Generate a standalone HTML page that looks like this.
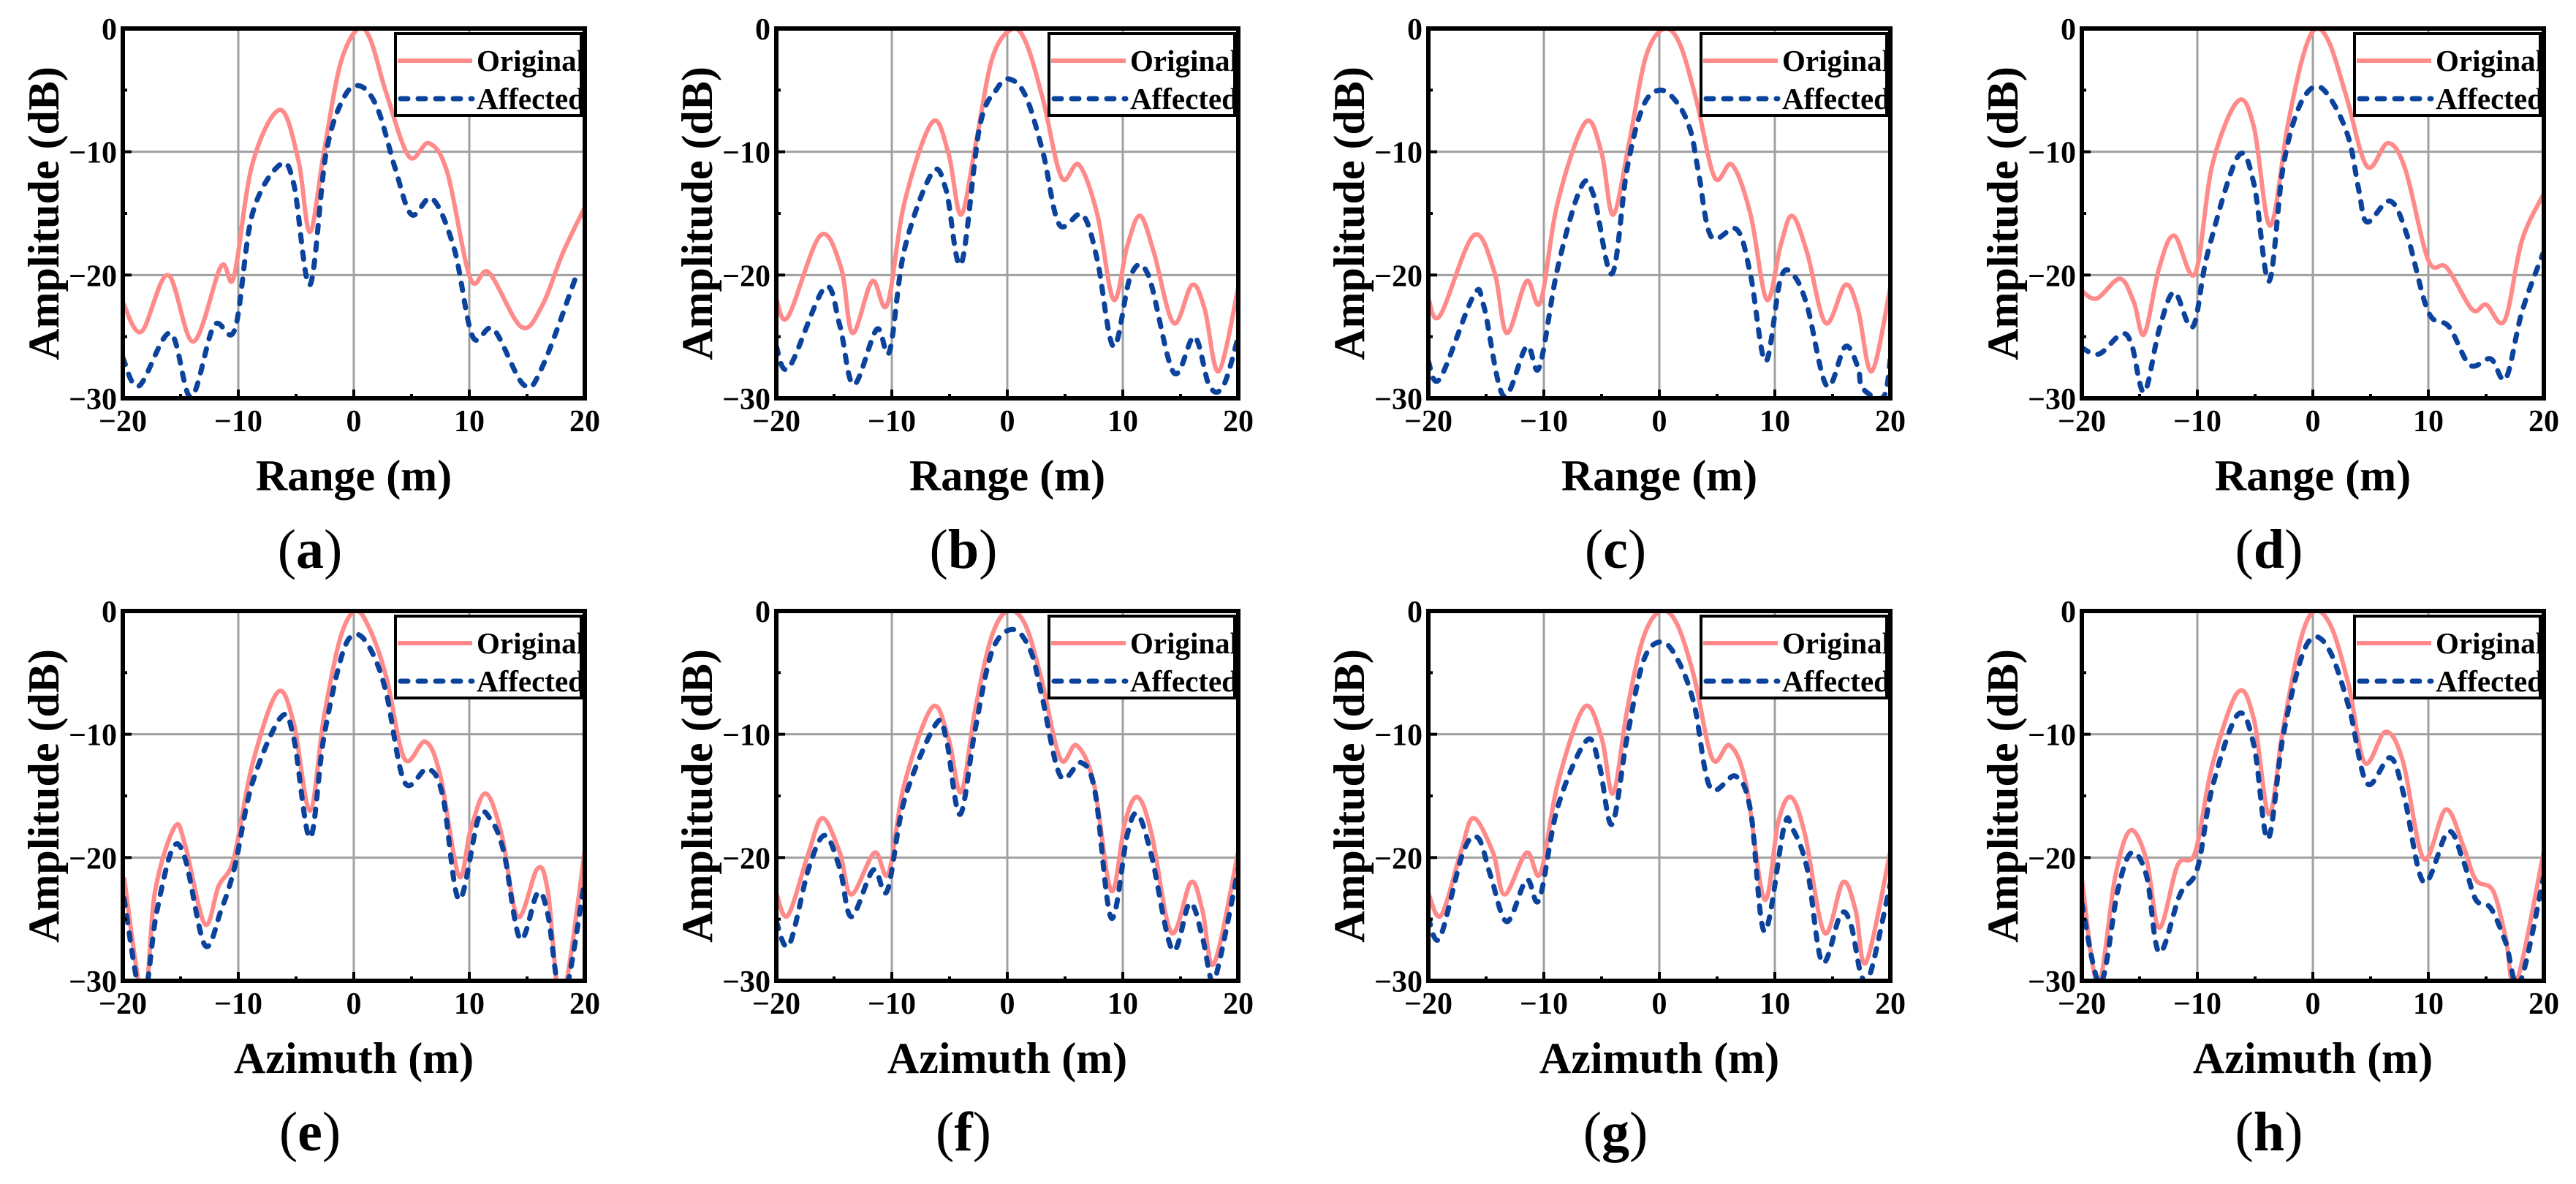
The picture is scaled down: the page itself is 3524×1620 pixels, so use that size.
<!DOCTYPE html>
<html><head><meta charset="utf-8"><style>
html,body{margin:0;padding:0;background:#fff;}
svg{display:block;}
text{font-family:"Liberation Serif",serif;fill:#000;}
</style></head><body>
<svg id="fig" width="3524" height="1620" viewBox="0 0 3524 1620"></svg>
<script>
// ---- data (x in m, y in dB) ----
const xTicks = [-20,-10,0,10,20];
const yTicks = [0,-10,-20,-30];
const panelLetters = ['a','b','c','d','e','f','g','h'];
const xTitles = ['Range (m)','Range (m)','Range (m)','Range (m)','Azimuth (m)','Azimuth (m)','Azimuth (m)','Azimuth (m)'];

const aOrigX=[-20,-18.4,-16.1,-13.9,-11.5,-10.4,-8.8,-6.4,-4.8,-3.8,-2.6,-1.2,0.3,1.4,2.8,4.8,6.5,8.1,10.1,11.7,14.5,16.3,18.1,20];
const aOrigY=[-22.2,-24.6,-20.0,-25.4,-19.3,-20.2,-11.05,-6.6,-10.7,-16.5,-10.1,-3.0,-0.06,-0.8,-5.2,-10.4,-9.3,-11.7,-20.3,-19.8,-24.2,-22.5,-18.2,-14.5];
const aAffX=[-20,-18.6,-15.9,-14.1,-12.1,-10.3,-8.8,-6.4,-5.2,-3.8,-2.4,-0.8,0.65,2.1,3.6,5.0,6.8,8.7,10.3,12.1,14.7,16.3,19.4];
const aAffY=[-26.7,-29.0,-24.7,-29.9,-24.1,-24.4,-15.1,-11.05,-12.6,-20.8,-10.1,-5.5,-4.7,-6.6,-11.4,-15.1,-13.8,-17.9,-25.0,-24.4,-28.9,-27.5,-19.7];

const bOrigX=[-20,-19.0,-16.2,-14.4,-13.4,-11.7,-10.4,-8.9,-6.5,-5.1,-4.0,-2.7,-1.3,0.36,1.6,3.1,4.7,6.2,7.8,9.2,10.4,11.5,12.7,14.4,16.0,17.1,18.3,20];
const bOrigY=[-21.9,-23.4,-16.8,-19.4,-24.7,-20.5,-22.4,-14.1,-7.6,-10.1,-15.1,-9.2,-2.4,-0.06,-1.1,-5.8,-12.1,-11.05,-15.1,-22.0,-17.6,-15.2,-18.2,-23.9,-20.8,-22.8,-27.8,-21.0];
const bAffX=[-20,-18.9,-15.8,-14.5,-13.3,-11.3,-10.2,-8.9,-6.5,-5.3,-4.0,-2.4,-0.9,0.2,1.6,3.1,4.5,6.5,7.8,9.2,10.7,12.2,14.4,16.2,17.5,18.7,20];
const bAffY=[-25.8,-27.5,-21.0,-24.1,-28.9,-24.4,-26.2,-17.9,-11.7,-13.1,-19.1,-8.0,-4.9,-4.1,-5.5,-10.1,-15.9,-15.1,-18.8,-25.8,-20.0,-20.0,-27.9,-25.0,-29.0,-29.0,-25.0];

const cOrigX=[-20,-19.0,-16.1,-14.3,-13.2,-11.5,-10.3,-8.8,-6.4,-5.0,-4.0,-2.6,-1.2,0.3,1.7,3.2,4.8,6.3,7.9,9.3,10.5,11.5,12.8,14.4,16.1,17.2,18.4,20];
const cOrigY=[-21.9,-23.3,-16.8,-19.7,-24.7,-20.5,-22.2,-14.1,-7.6,-10.1,-15.1,-9.2,-2.4,-0.06,-1.1,-5.8,-12.1,-11.05,-15.1,-22.0,-17.6,-15.2,-18.2,-23.9,-20.8,-22.8,-27.8,-21.0];
const cAffX=[-20,-19.0,-16.1,-15.2,-13.5,-11.5,-10.4,-8.8,-6.8,-5.7,-4.1,-2.8,-1.4,0.1,1.6,2.7,3.4,4.5,6.7,7.9,9.2,10.5,11.6,12.8,14.5,16.1,17.2,17.6,19.4,20];
const cAffY=[-27.0,-28.4,-21.7,-22.5,-29.8,-25.8,-27.5,-19.4,-12.9,-13.5,-19.9,-11.4,-6.3,-5.0,-6.1,-8.3,-11.7,-16.9,-16.3,-20.0,-27.0,-20.3,-20.0,-22.5,-29.0,-25.8,-27.5,-29.2,-29.9,-26.8];

const dOrigX=[-20,-18.7,-16.7,-15.5,-14.6,-13.3,-12.0,-10.2,-8.7,-6.5,-5.1,-3.7,-2.2,-0.9,0.2,1.4,2.9,4.7,6.5,8.0,10.0,11.6,13.8,15.0,16.6,18.1,20];
const dOrigY=[-21.3,-21.9,-20.3,-22.2,-24.8,-19.4,-16.8,-19.9,-11.05,-5.9,-8.0,-16.0,-8.0,-2.4,-0.06,-1.1,-5.5,-11.2,-9.3,-11.4,-18.8,-19.4,-22.8,-22.4,-23.7,-17.2,-13.4];
const dAffX=[-20,-18.5,-16.6,-15.7,-14.6,-13.3,-12.0,-10.4,-9.1,-6.5,-5.1,-3.8,-2.6,-1.3,0.2,1.6,3.1,4.0,4.7,6.7,8.2,10.0,11.8,13.6,15.4,16.7,18.1,19.9];
const dAffY=[-25.9,-26.4,-24.8,-25.6,-29.5,-24.4,-21.4,-24.2,-18.2,-10.4,-12.6,-20.5,-11.4,-6.6,-4.7,-5.8,-8.9,-13.2,-15.7,-14.0,-16.9,-23.0,-24.2,-27.3,-26.8,-28.4,-23.0,-18.3];

const eOrigX=[-19.9,-18.2,-17.2,-15.5,-14.6,-12.9,-11.7,-10.4,-8.8,-6.6,-5.2,-3.8,-2.6,-1.2,0.1,1.3,2.8,4.4,6.2,7.5,9.1,10.1,11.4,12.8,14.2,15.9,16.8,18.0,20];
const eOrigY=[-21.6,-31.5,-22.7,-17.5,-19.0,-25.4,-22.3,-20.1,-12.5,-6.6,-9.1,-16.2,-8.7,-2.3,0,-1.3,-5.3,-12.0,-10.6,-13.4,-21.5,-17.8,-14.8,-18.1,-24.8,-20.9,-22.7,-31.5,-19.5];
const eAffX=[-19.9,-18.3,-17.1,-15.7,-14.6,-12.9,-11.5,-10.3,-8.8,-6.3,-5.2,-3.8,-2.6,-1.0,0.2,1.5,2.8,4.4,6.4,7.7,9.1,10.8,11.9,13.0,14.4,15.9,16.8,18.1,20];
const eAffY=[-23.3,-31.5,-24.6,-19.3,-20.1,-27.1,-24.3,-20.7,-14.0,-8.6,-10.3,-18.4,-10.3,-3.5,-1.9,-3.2,-6.6,-13.9,-12.8,-15.0,-23.4,-16.8,-17.0,-19.6,-26.6,-22.9,-24.6,-31.5,-21.8];

const fOrigX=[-20,-19.0,-17.2,-16.0,-14.5,-13.5,-11.5,-10.3,-8.9,-6.5,-5.1,-4.0,-2.8,-1.4,0,1.5,2.9,4.6,6.0,7.5,9.0,10.2,11.3,12.5,14.2,15.9,16.9,17.9,20];
const fOrigY=[-22.9,-24.7,-19.6,-16.8,-19.6,-23.0,-19.6,-21.3,-14.0,-7.8,-10.3,-14.7,-8.1,-2.2,0,-1.0,-5.3,-12.0,-10.9,-14.0,-22.7,-17.1,-15.1,-18.1,-26.1,-22.0,-24.3,-28.6,-19.5];
const fAffX=[-20,-18.9,-17.2,-15.8,-14.5,-13.5,-11.6,-10.4,-8.9,-6.2,-5.3,-4.1,-2.8,-1.3,0.5,2.0,3.0,4.6,6.4,7.6,9.0,10.4,11.3,12.5,14.3,15.8,16.9,17.7,18.4,20];
const fAffY=[-25.2,-27.1,-20.9,-18.2,-20.9,-24.8,-21.0,-22.7,-15.3,-9.2,-10.3,-16.5,-9.7,-3.2,-1.5,-3.2,-6.9,-13.4,-12.3,-14.7,-24.9,-18.1,-16.5,-19.9,-27.5,-23.7,-26.5,-30.0,-28.3,-20.9];

const gOrigX=[-20,-18.9,-17.2,-16.1,-14.4,-13.4,-11.5,-10.3,-8.8,-6.5,-5.0,-4.0,-2.8,-1.4,0.1,1.5,3.0,4.6,6.1,7.5,9.1,10.3,11.4,12.6,14.3,15.9,17.0,17.9,20];
const gOrigY=[-22.9,-24.7,-19.6,-16.8,-19.6,-23.0,-19.6,-21.3,-14.0,-7.8,-10.3,-14.8,-8.1,-2.2,0,-1.0,-5.3,-12.0,-10.9,-14.0,-23.4,-17.1,-15.1,-18.1,-26.1,-22.0,-24.3,-28.5,-19.5];
const gAffX=[-20,-19.0,-17.0,-15.7,-14.6,-13.2,-11.5,-10.4,-8.8,-6.3,-5.2,-4.1,-2.8,-1.4,0.1,1.5,3.0,4.4,6.6,7.9,9.1,10.8,11.5,12.8,14.1,15.7,16.6,17.5,18.3,20];
const gAffY=[-24.9,-26.5,-19.6,-18.4,-21.5,-25.2,-21.8,-23.4,-15.9,-10.5,-12.5,-17.3,-10.3,-4.1,-2.5,-3.8,-7.5,-14.3,-13.4,-16.2,-26.0,-17.5,-17.6,-20.9,-28.5,-24.6,-25.5,-29.6,-29.3,-22.1];

const hOrigX=[-20,-18.6,-17.1,-15.8,-14.4,-13.3,-11.7,-10.2,-8.7,-6.5,-5.1,-3.8,-2.6,-1.1,0.15,1.6,3.1,4.5,6.3,7.8,9.6,11.5,13.0,14.1,15.6,16.7,17.6,20];
const hOrigY=[-21.8,-30.2,-21.5,-17.8,-20.2,-25.7,-20.6,-19.6,-12.5,-6.6,-8.8,-16.5,-9.7,-2.5,0,-1.3,-6.0,-12.3,-9.8,-12.2,-20.1,-16.1,-19.0,-21.8,-22.7,-26.5,-30.2,-19.5];
const hAffX=[-20,-18.4,-16.9,-15.7,-14.4,-13.3,-11.5,-10.0,-8.7,-6.5,-5.1,-3.9,-2.6,-1.1,0.15,1.6,3.2,4.7,6.7,7.9,9.6,11.7,13.0,14.1,15.4,16.7,17.9,20];
const hAffY=[-23.7,-30.2,-22.7,-19.6,-21.5,-27.7,-23.0,-20.9,-14.3,-8.4,-10.9,-18.5,-10.3,-4.1,-2.1,-3.5,-8.1,-14.0,-11.9,-15.0,-22.0,-17.9,-20.2,-23.4,-24.1,-26.9,-30.2,-21.5];

const origXs=[aOrigX,bOrigX,cOrigX,dOrigX,eOrigX,fOrigX,gOrigX,hOrigX];
const origYs=[aOrigY,bOrigY,cOrigY,dOrigY,eOrigY,fOrigY,gOrigY,hOrigY];
const affXs=[aAffX,bAffX,cAffX,dAffX,eAffX,fAffX,gAffX,hAffX];
const affYs=[aAffY,bAffY,cAffY,dAffY,eAffY,fAffY,gAffY,hAffY];

// ---- layout ----
const NS='http://www.w3.org/2000/svg';
const svg=document.getElementById('fig');
const colLeft=[168,1062,1954,2848];
const rowTop=[39,836];
const PW=632, PH=506;

function mk(tag,attrs,parent){const e=document.createElementNS(NS,tag);for(const k in attrs)e.setAttribute(k,attrs[k]);(parent||svg).appendChild(e);return e;}

function pathFrom(xs,ys,sx,sy){
  const p=xs.map((x,i)=>[sx(x),sy(ys[i])]);
  let d='M'+p[0][0].toFixed(1)+','+p[0][1].toFixed(1);
  for(let i=0;i<p.length-1;i++){
    const p0=p[Math.max(0,i-1)],p1=p[i],p2=p[i+1],p3=p[Math.min(p.length-1,i+2)];
    const c1=[p1[0]+(p2[0]-p0[0])/6,p1[1]+(p2[1]-p0[1])/6];
    const c2=[p2[0]-(p3[0]-p1[0])/6,p2[1]-(p3[1]-p1[1])/6];
    d+=' C'+c1[0].toFixed(1)+','+c1[1].toFixed(1)+' '+c2[0].toFixed(1)+','+c2[1].toFixed(1)+' '+p2[0].toFixed(1)+','+p2[1].toFixed(1);
  }
  return d;
}

for(let k=0;k<8;k++){
  const L=colLeft[k%4], T=rowTop[Math.floor(k/4)];
  const sx=x=>L+(x+20)/40*PW;
  const sy=y=>T+(-y)/30*PH;
  const g=mk('g',{});
  
  
  const cid='clip'+k;
  const cp=mk('clipPath',{id:cid},g);
  mk('rect',{x:L,y:T,width:PW,height:PH},cp);
  // grid
  [-10,0,10].forEach(v=>{const l=mk('line',{x1:sx(v),x2:sx(v),y1:T,y2:T+PH,stroke:'#a0a0a0','stroke-width':3},g);
    });
  [-10,-20].forEach(v=>{const l=mk('line',{x1:L,x2:L+PW,y1:sy(v),y2:sy(v),stroke:'#a0a0a0','stroke-width':3},g);
    });
  // curves
  const cg=mk('g',{'clip-path':'url(#'+cid+')'},g);
  const po=mk('path',{d:pathFrom(origXs[k],origYs[k],sx,sy),fill:'none',stroke:'#ff8a8a','stroke-width':6,'stroke-linejoin':'round'},cg);
  
  
  const pa=mk('path',{d:pathFrom(affXs[k],affYs[k],sx,sy),fill:'none',stroke:'#0b439c','stroke-width':7,'stroke-dasharray':'10 14','stroke-linecap':'round'},cg);
  
  
  // ticks
  for(let v=-20;v<=20;v+=5){const len=(v%10===0)?12:6;mk('line',{x1:sx(v),x2:sx(v),y1:T+PH,y2:T+PH-len,stroke:'#000','stroke-width':4},g);}
  for(let v=0;v>=-30;v-=5){const len=(v%10===0)?12:6;mk('line',{x1:L,x2:L+len,y1:sy(v),y2:sy(v),stroke:'#000','stroke-width':4},g);}
  // frame
  const fr=mk('rect',{x:L,y:T,width:PW,height:PH,fill:'none',stroke:'#000','stroke-width':6},g);
  
  
  // tick labels
  xTicks.forEach(v=>{const t=mk('text',{x:sx(v),y:T+PH+45,'text-anchor':'middle','font-size':42,'font-weight':'bold'},g);
    t.textContent=v<0?'\u2212'+(-v):String(v);
    });
  yTicks.forEach(v=>{const t=mk('text',{x:L-8,y:sy(v)+15,'text-anchor':'end','font-size':42,'font-weight':'bold'},g);
    t.textContent=v<0?'\u2212'+(-v):String(v);
    });
  // axis titles
  const xt=mk('text',{x:L+PW/2,y:T+PH+126,'text-anchor':'middle','font-size':60,'font-weight':'bold'},g);
  xt.textContent=xTitles[k];
  
  const yx=L-88, yy=T+PH/2;
  const yt=mk('text',{x:yx,y:yy,'text-anchor':'middle','font-size':60,'font-weight':'bold',transform:'rotate(-90 '+yx+' '+yy+')'},g);
  yt.textContent='Amplitude (dB)';
  
  // panel label
  const pl=mk('text',{x:L+PW/2-60,y:T+PH+232,'text-anchor':'middle','font-size':76},g);
  pl.innerHTML='(<tspan font-weight="bold">'+panelLetters[k]+'</tspan>)';
  
  // legend
  const lg=mk('g',{},g);
  
  
  const lx=L+PW-259, ly=T+7;
  mk('rect',{x:lx,y:ly,width:254,height:112,fill:'#fff',stroke:'#000','stroke-width':4},lg);
  mk('line',{x1:lx+3,x2:lx+105,y1:ly+37,y2:ly+37,stroke:'#ff8a8a','stroke-width':6},lg);
  mk('line',{x1:lx+7,x2:lx+105,y1:ly+89,y2:ly+89,stroke:'#0b439c','stroke-width':7,'stroke-dasharray':'10 14','stroke-linecap':'round'},lg);
  const t1=mk('text',{x:lx+111,y:ly+51,'font-size':41,'font-weight':'bold'},lg);t1.textContent='Original';
  
  const t2=mk('text',{x:lx+111,y:ly+103,'font-size':41,'font-weight':'bold'},lg);t2.textContent='Affected';
  
}
</script>
</body></html>
